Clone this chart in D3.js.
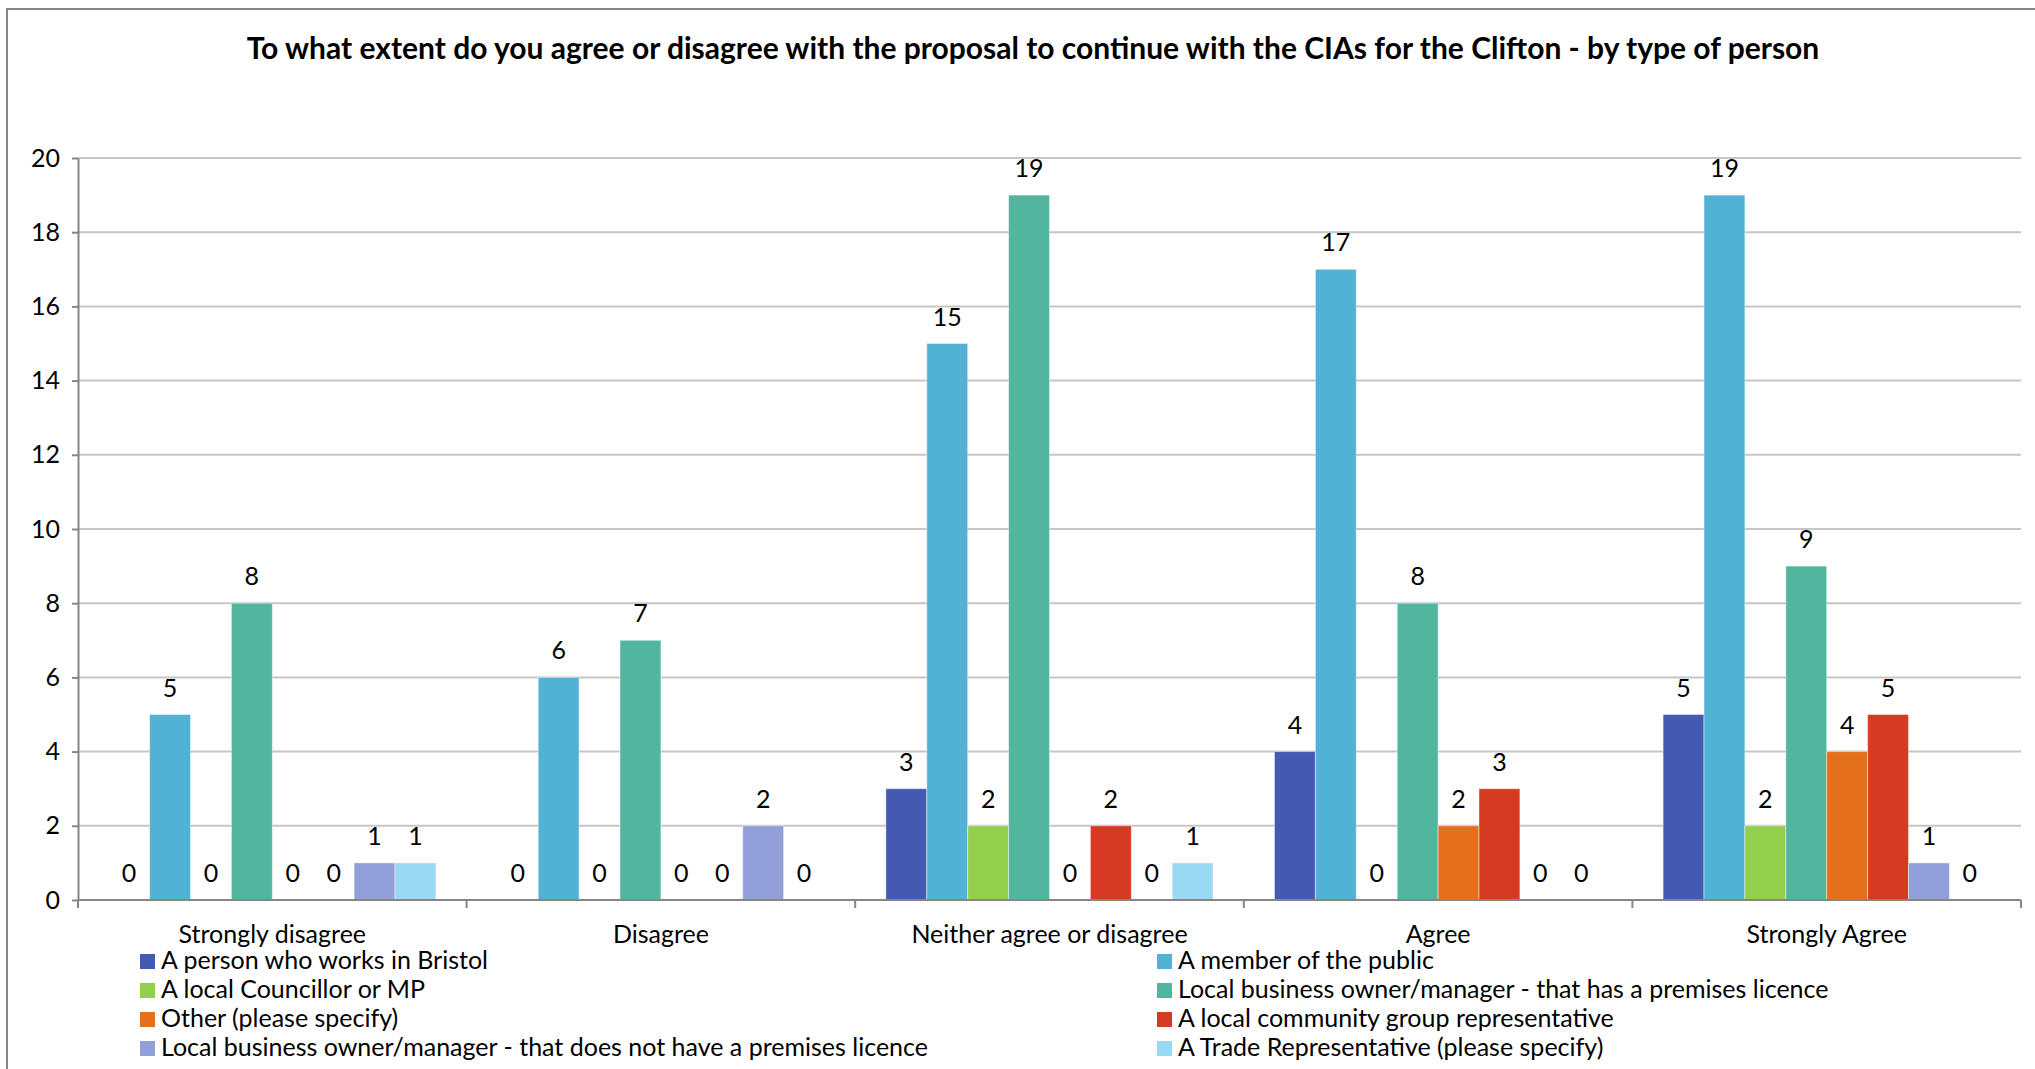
<!DOCTYPE html>
<html><head><meta charset="utf-8">
<script src="https://cdn.jsdelivr.net/npm/d3@7"></script>
<style>html,body{margin:0;padding:0;background:#fff;overflow:hidden}svg{display:block}</style>
</head><body>
<script>
const categories = ["Strongly disagree","Disagree","Neither agree or disagree","Agree","Strongly Agree"];
const seriesNames = [
  "A person who works in Bristol",
  "A member of the public",
  "A local Councillor or MP",
  "Local business owner/manager - that has a premises licence",
  "Other (please specify)",
  "A local community group representative",
  "Local business owner/manager - that does not have a premises licence",
  "A Trade Representative (please specify)"
];
const seriesColors = ["#4459B0","#52B2D6","#93CF4C","#52B69E","#E4701E","#D73A22","#939FD8","#9AD9F3"];
const worksInBristol   = [0,0,3,4,5];
const memberOfPublic   = [5,6,15,17,19];
const councillorMP     = [0,0,2,0,2];
const businessLicence  = [8,7,19,8,9];
const other            = [0,0,0,2,4];
const communityGroup   = [0,0,2,3,5];
const businessNoLicence= [1,2,0,0,1];
const tradeRep         = [1,0,1,0,0];
const seriesValues = [worksInBristol,memberOfPublic,councillorMP,businessLicence,other,communityGroup,businessNoLicence,tradeRep];
const yTicks = [0,2,4,6,8,10,12,14,16,18,20];
const title = "To what extent do you agree or disagree with the proposal to continue with the CIAs for the Clifton - by type of person";

const W = 2035, H = 1069;
const FONT = "Lato, Carlito, Calibri, sans-serif";
const svg = d3.select("body").append("svg").attr("width", W).attr("height", H);

// outer chart border
svg.append("rect").attr("x", 7).attr("y", 9).attr("width", W + 20).attr("height", H + 20)
  .attr("fill", "#fff").attr("stroke", "#868686").attr("stroke-width", 2);

const plot = {left: 78, right: 2021, top: 158, bottom: 900};
const x0 = d3.scaleBand().domain(categories).range([plot.left, plot.right]).padding(0);
const x1 = d3.scaleBand().domain(d3.range(seriesNames.length)).range([0, x0.bandwidth()])
  .paddingInner(0).paddingOuter(0.75);
const y = d3.scaleLinear().domain([0, 20]).range([plot.bottom, plot.top]);

// gridlines
svg.append("g").selectAll("line").data(yTicks.filter(d => d > 0)).join("line")
  .attr("x1", plot.left).attr("x2", plot.right)
  .attr("y1", d => y(d)).attr("y2", d => y(d))
  .attr("stroke", "#c6c6c6").attr("stroke-width", 2);

// title
svg.append("text").attr("x", 1033).attr("y", 59).attr("text-anchor", "middle")
  .attr("font-family", FONT).attr("font-weight", "bold").attr("font-size", 30)
  .attr("fill", "#000").text(title);

// bars
const data = [];
categories.forEach((c, ci) => seriesValues.forEach((vals, si) => data.push({c, si, v: vals[ci]})));
const gBars = svg.append("g");
gBars.selectAll("rect").data(data.filter(d => d.v > 0)).join("rect")
  .attr("x", d => x0(d.c) + x1(d.si))
  .attr("y", d => y(d.v))
  .attr("width", x1.bandwidth())
  .attr("height", d => y(0) - y(d.v))
  .attr("fill", d => seriesColors[d.si])
  .attr("stroke", "rgba(255,255,255,0.45)").attr("stroke-width", 1);

// data labels
svg.append("g").selectAll("text").data(data).join("text")
  .attr("x", d => x0(d.c) + x1(d.si) + x1.bandwidth() / 2)
  .attr("y", d => y(d.v) - 18)
  .attr("text-anchor", "middle")
  .attr("font-family", FONT).attr("font-size", 25).attr("fill", "#000")
  .text(d => d.v);

// y axis
const yAxis = d3.axisLeft(y).tickValues(yTicks).tickSize(6).tickPadding(12).tickSizeOuter(0);
const gy = svg.append("g").attr("transform", `translate(${plot.left},0)`).call(yAxis);
gy.select(".domain").attr("stroke", "#868686").attr("stroke-width", 2);
gy.selectAll(".tick line").attr("stroke", "#868686").attr("stroke-width", 2);
gy.selectAll(".tick text").attr("font-family", FONT).attr("font-size", 25).attr("fill", "#000");

// x axis
const gx = svg.append("g").attr("transform", `translate(0,${plot.bottom})`);
gx.append("line").attr("x1", plot.left).attr("x2", plot.right).attr("stroke", "#868686").attr("stroke-width", 2);
const bounds = categories.map(c => x0(c)).concat([plot.right]);
gx.selectAll("line.tk").data(bounds).join("line").attr("class", "tk")
  .attr("x1", d => d).attr("x2", d => d).attr("y1", 0).attr("y2", 8)
  .attr("stroke", "#868686").attr("stroke-width", 2);
gx.selectAll("text").data(categories).join("text")
  .attr("x", d => x0(d) + x0.bandwidth() / 2).attr("y", 43)
  .attr("text-anchor", "middle").attr("font-family", FONT).attr("font-size", 25).attr("fill", "#000")
  .text(d => d);

// legend
const legCols = [140, 1157];
const legRows = [961, 990, 1019, 1048];
const leg = svg.append("g").selectAll("g").data(seriesNames).join("g")
  .attr("transform", (d, i) => `translate(${legCols[i % 2]},${legRows[Math.floor(i / 2)]})`);
leg.append("rect").attr("x", 0).attr("y", -7).attr("width", 15).attr("height", 15)
  .attr("fill", (d, i) => seriesColors[i]);
leg.append("text").attr("x", 21).attr("y", 8).attr("font-family", FONT).attr("font-size", 25)
  .attr("fill", "#000").text(d => d);
</script>
</body></html>
